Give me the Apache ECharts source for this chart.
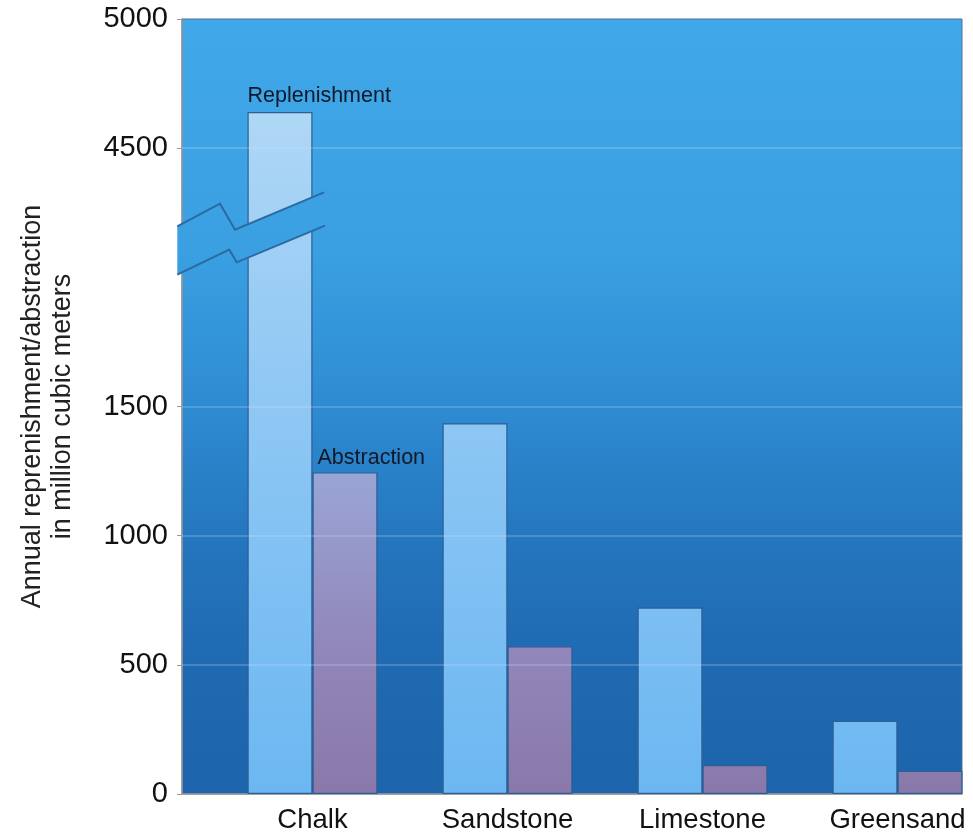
<!DOCTYPE html>
<html>
<head>
<meta charset="utf-8">
<script src="https://cdn.jsdelivr.net/npm/echarts@6/dist/echarts.min.js"></script>
<style>
  html, body { margin: 0; padding: 0; background: #ffffff; }
  #chart { width: 973px; height: 839px; }
</style>
</head>
<body>
<div id="chart"></div>
<script>
// Aquifer types on the x axis
const categories = ['Chalk', 'Sandstone', 'Limestone', 'Greensand'];
// Annual values in million cubic meters
const replenishment = [4640, 1435, 722, 283];
const abstraction = [1245, 572, 112, 90];
// Tick values shown on the broken value axis
const tickLabels = [0, 500, 1000, 1500, 4500, 5000];

// The value axis is broken between 1500 and 4500; that span is drawn as 1000.
const BREAK_LOW = 1500;
const BREAK_HIGH = 4500;
const BREAK_SPAN = 1000;
const toAxis = v => (v <= BREAK_LOW ? v : BREAK_LOW + BREAK_SPAN + (v - BREAK_HIGH));
const fromAxis = v => (v <= BREAK_LOW ? v : v - BREAK_LOW - BREAK_SPAN + BREAK_HIGH);

const GRID = { left: 182, top: 19, width: 780, height: 775 };
const gTop = GRID.top, gBottom = GRID.top + GRID.height;

function globalGradient(stops) {
  return {
    type: 'linear', x: 0, y: gTop, x2: 0, y2: gBottom, global: true,
    colorStops: stops.map(s => ({ offset: s[0], color: s[1] }))
  };
}

const bgStops = [[0, '#40a7e8'], [0.3, '#3aa0e2'], [0.5, '#2e8bd2'], [0.7, '#2373bb'], [0.85, '#1f69b1'], [1, '#1c64ab']];
const repFill = globalGradient([[0, '#badcf6'], [0.45, '#92c9f4'], [1, '#6cb7f2']]);
const absFill = globalGradient([[0, '#a4c0ea'], [0.59, '#99a5d5'], [0.8, '#9288bb'], [1, '#8a78aa']]);

const axisTickValues = tickLabels.map(toAxis);
const gridLineValues = axisTickValues.filter(v => v > 0 && v < toAxis(5000));

const FONT = 'Liberation Sans, Arial, sans-serif';
const labelText = { fontFamily: FONT, fontSize: 21.5, color: '#111827' };

function withFirstLabel(values, text, pos) {
  return values.map((v, i) => {
    const value = toAxis(v);
    if (i !== 0) return value;
    return {
      value,
      label: Object.assign({ show: true, formatter: text, position: pos, verticalAlign: 'bottom', align: 'left' }, labelText)
    };
  });
}

const chart = echarts.init(document.getElementById('chart'), null, { renderer: 'canvas' });

chart.setOption({
  animation: false,
  backgroundColor: '#ffffff',
  grid: {
    left: GRID.left, top: GRID.top, width: GRID.width, height: GRID.height,
    show: true,
    backgroundColor: { type: 'linear', x: 0, y: 0, x2: 0, y2: 1,
      colorStops: bgStops.map(s => ({ offset: s[0], color: s[1] })) },
    borderColor: '#4f7398', borderWidth: 1
  },
  xAxis: {
    type: 'category',
    data: categories,
    axisLine: { show: true, lineStyle: { color: '#9a9a9a', width: 1.5 } },
    axisTick: { show: false },
    // left padding moves each name under the middle of its bar pair
    axisLabel: { fontFamily: FONT, fontSize: 27.5, color: '#111111', margin: 12, padding: [0, 0, 0, 66] }
  },
  yAxis: {
    type: 'value',
    min: 0, max: toAxis(5000), interval: 500,
    name: 'Annual reprenishment/abstraction\nin million cubic meters',
    nameLocation: 'middle',
    nameGap: 104,
    nameTextStyle: { fontFamily: FONT, fontSize: 27, lineHeight: 30, color: '#222222' },
    axisLine: { show: true, lineStyle: { color: '#9a9a9a', width: 1.5 } },
    axisTick: { show: true, length: 5, customValues: axisTickValues, lineStyle: { color: '#9a9a9a' } },
    axisLabel: {
      customValues: axisTickValues,
      formatter: v => String(fromAxis(v)),
      fontFamily: FONT, fontSize: 29, color: '#111111', margin: 14
    },
    splitLine: { show: false }
  },
  series: [
    {
      // empty leading slot that shifts each pair of bars right within its band
      name: 'offset', type: 'bar', barWidth: 66, barGap: 0,
      data: categories.map(() => null), silent: true
    },
    {
      name: 'Replenishment', type: 'bar', barWidth: 65, barGap: 0,
      data: withFirstLabel(replenishment, 'Replenishment', [0, -5]),
      itemStyle: { color: repFill, borderColor: '#2d5f93', borderWidth: 1.2 },
      markLine: {
        silent: true, symbol: 'none', label: { show: false },
        lineStyle: { color: 'rgba(200,230,255,0.3)', width: 1.5, type: 'solid' },
        data: gridLineValues.map(v => ({ yAxis: v }))
      },
      z: 3
    },
    {
      name: 'Abstraction', type: 'bar', barWidth: 65, barGap: 0,
      data: withFirstLabel(abstraction, 'Abstraction', [5, -3]),
      itemStyle: { color: absFill, borderColor: '#2d5f93', borderWidth: 1.2 },
      z: 3
    }
  ]
});

// Break marker: a zigzag band across the value axis and the tall bar,
// anchored at the collapsed axis position 2000
const anchor = chart.convertToPixel({ gridIndex: 0 }, [categories[0], 2000]);
const upper = [[-102.2, -51], [-59.5, -73.7], [-44.5, -47.7], [44.5, -85]];
const lower = [[-102.2, -2.7], [-50.2, -27.7], [-42.8, -15], [45.5, -51.7]];
const at = pts => pts.map(p => [anchor[0] + p[0], anchor[1] + p[1]]);
const bandFill = {
  type: 'linear', x: 0, y: gTop, x2: 0, y2: gBottom, global: true,
  colorStops: bgStops.map(s => ({ offset: s[0], color: s[1] }))
};
chart.setOption({
  graphic: [
    { type: 'polygon', z: 100, silent: true,
      shape: { points: at(upper).concat(at(lower).reverse()) },
      style: { fill: bandFill, stroke: null } },
    { type: 'polyline', z: 101, silent: true,
      shape: { points: at(upper) },
      style: { stroke: '#2c6aa3', lineWidth: 2, fill: null } },
    { type: 'polyline', z: 101, silent: true,
      shape: { points: at(lower) },
      style: { stroke: '#2c6aa3', lineWidth: 2, fill: null } }
  ]
});
</script>
</body>
</html>
